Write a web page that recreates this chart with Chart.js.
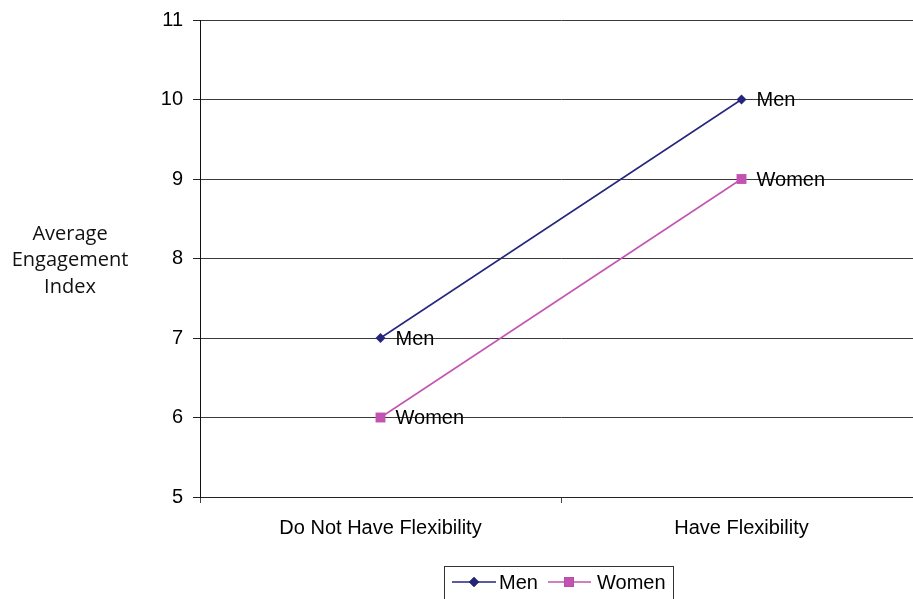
<!DOCTYPE html>
<html>
<head>
<meta charset="utf-8">
<script src="https://cdn.jsdelivr.net/npm/chart.js@4.4.1/dist/chart.umd.min.js"></script>
<style>
  html, body { margin: 0; padding: 0; background: #fff; overflow: hidden; }
  #wrap { width: 913px; height: 599px; overflow: hidden; }
  canvas { display: block; }
</style>
</head>
<body>
<div id="wrap"><canvas id="c" width="929" height="599"></canvas></div>
<script>
// Engagement index by flexibility arrangement
const categories = ['Do Not Have Flexibility', 'Have Flexibility'];
const menValues = [7, 10];
const womenValues = [6, 9];
const seriesNames = ['Men', 'Women'];
const yTicks = [5, 6, 7, 8, 9, 10, 11];
const yTitleLines = ['Average', 'Engagement', 'Index'];

const TICK_FONT = { family: '"Liberation Sans", Arial, sans-serif', size: 20 };
const MEN_COLOR = '#25257e';
const WOMEN_COLOR = '#c353b0';

// Series name written beside each point
const pointLabels = {
  id: 'pointLabels',
  afterDatasetsDraw(chart) {
    const ctx = chart.ctx;
    ctx.save();
    ctx.font = '20px "Liberation Sans", Arial, sans-serif';
    ctx.fillStyle = '#000';
    ctx.textBaseline = 'middle';
    ctx.textAlign = 'left';
    chart.data.datasets.forEach((ds, i) => {
      chart.getDatasetMeta(i).data.forEach(pt => {
        ctx.fillText(ds.label, pt.x + 15, pt.y + 1);
      });
    });
    ctx.restore();
  }
};

// Horizontal y-axis title on the left
const yTitle = {
  id: 'yTitle',
  afterDraw(chart) {
    const ctx = chart.ctx;
    ctx.save();
    ctx.font = '20px "Open Sans", sans-serif';
    ctx.fillStyle = '#111';
    ctx.textAlign = 'center';
    ctx.textBaseline = 'middle';
    yTitleLines.forEach((t, i) => ctx.fillText(t, 70, 234 + i * 26.5));
    ctx.restore();
  }
};

// Boxed legend under the chart
const boxLegend = {
  id: 'boxLegend',
  afterDraw(chart) {
    const ctx = chart.ctx;
    ctx.save();
    ctx.strokeStyle = '#333';
    ctx.lineWidth = 1;
    ctx.strokeRect(444.5, 566.5, 229, 40);
    const items = [
      { x0: 452, x1: 496, mx: 474, tx: 499 },
      { x0: 548, x1: 591, mx: 569, tx: 597 }
    ];
    const y = 582;
    ctx.font = '20px "Liberation Sans", Arial, sans-serif';
    ctx.textBaseline = 'middle';
    ctx.textAlign = 'left';
    chart.data.datasets.forEach((ds, i) => {
      const it = items[i];
      ctx.strokeStyle = ds.borderColor;
      ctx.lineWidth = 1.5;
      ctx.beginPath();
      ctx.moveTo(it.x0, y);
      ctx.lineTo(it.x1, y);
      ctx.stroke();
      Chart.helpers.drawPoint(ctx, {
        pointStyle: ds.pointStyle, radius: ds.pointRadius, borderWidth: 0
      }, it.mx, y);
      ctx.fillStyle = ds.backgroundColor;
      ctx.fill();
      ctx.fillStyle = '#000';
      ctx.fillText(ds.label, it.tx, y + 1);
    });
    ctx.restore();
  }
};

new Chart(document.getElementById('c'), {
  type: 'line',
  data: {
    labels: categories,
    datasets: [
      {
        label: seriesNames[0], data: menValues,
        borderColor: MEN_COLOR, backgroundColor: MEN_COLOR,
        borderWidth: 1.5, pointStyle: 'rectRot', pointRadius: 5,
        pointBorderWidth: 0, tension: 0
      },
      {
        label: seriesNames[1], data: womenValues,
        borderColor: WOMEN_COLOR, backgroundColor: WOMEN_COLOR,
        borderWidth: 1.5, pointStyle: 'rect', pointRadius: 7,
        pointBorderWidth: 0, tension: 0
      }
    ]
  },
  options: {
    responsive: false,
    animation: false,
    layout: { padding: { top: 20, right: 1, left: 0, bottom: 0 } },
    plugins: { legend: { display: false }, tooltip: { enabled: false } },
    scales: {
      x: {
        type: 'category',
        offset: true,
        grid: {
          offset: true, drawOnChartArea: false, drawTicks: true,
          tickLength: 6, color: '#444', tickColor: '#444'
        },
        border: { color: '#222', width: 1 },
        ticks: { font: TICK_FONT, color: '#000', padding: 13, maxRotation: 0 },
        afterFit(scale) { scale.height = 102; }
      },
      y: {
        min: yTicks[0], max: yTicks[yTicks.length - 1],
        afterBuildTicks(scale) { scale.ticks = yTicks.map(v => ({ value: v })); },
        grid: { color: '#3a3a3a', tickLength: 7, tickColor: '#222' },
        border: { color: '#111', width: 1 },
        ticks: { font: TICK_FONT, color: '#000', padding: 10 },
        afterFit(scale) {
          scale.width = 200;
          scale.paddingTop = 0;
          scale.paddingBottom = 0;
        }
      }
    }
  },
  plugins: [pointLabels, yTitle, boxLegend]
});
</script>
</body>
</html>
